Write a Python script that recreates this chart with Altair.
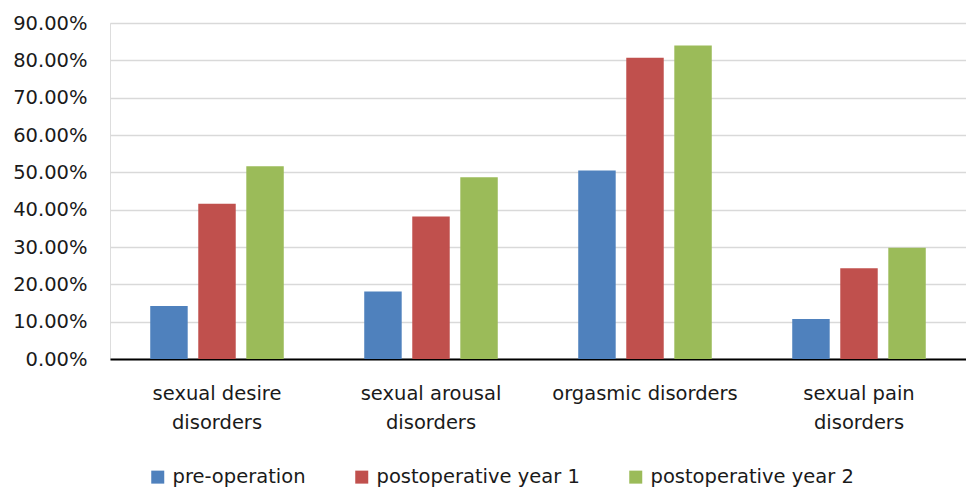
import altair as alt
import pandas as pd

categories = [
    "sexual desire\ndisorders",
    "sexual arousal\ndisorders",
    "orgasmic disorders",
    "sexual pain\ndisorders",
]
series = ["pre-operation", "postoperative year 1", "postoperative year 2"]
pre_operation = [0.142, 0.181, 0.505, 0.107]
post_year_1 = [0.416, 0.382, 0.807, 0.243]
post_year_2 = [0.516, 0.487, 0.840, 0.298]
y_ticks = [0.0, 0.1, 0.2, 0.3, 0.4, 0.5, 0.6, 0.7, 0.8, 0.9]
colors = ["#4f81bd", "#c0504d", "#9bbb59"]

rows = []
for s, vals in zip(series, [pre_operation, post_year_1, post_year_2]):
    for c, v in zip(categories, vals):
        rows.append({"category": c, "series": s, "value": v})
df = pd.DataFrame(rows)

FONT = "DejaVu Sans"
TXT = "#1a1a1a"

chart = (
    alt.Chart(df)
    .mark_bar()
    .encode(
        x=alt.X(
            "category:N",
            sort=categories,
            title=None,
            scale=alt.Scale(paddingInner=0.376, paddingOuter=0.188),
            axis=alt.Axis(
                labelExpr="split(datum.label, '\\n')",
                labelAngle=0,
                labelFontSize=19.5,
                labelColor=TXT,
                labelFont=FONT,
                labelPadding=25,
                labelLineHeight=29,
                labelBaseline="top",
                labelLimit=0,
                ticks=False,
                tickSize=0,
                domain=True,
                domainColor="#000000",
                domainWidth=2,
                grid=False,
            ),
        ),
        xOffset=alt.XOffset(
            "series:N",
            sort=series,
            scale=alt.Scale(paddingInner=0.22, paddingOuter=0),
        ),
        y=alt.Y(
            "value:Q",
            title=None,
            scale=alt.Scale(domain=[0, 0.9], nice=False),
            axis=alt.Axis(
                values=y_ticks,
                format=".2%",
                labelFontSize=19.5,
                labelColor=TXT,
                labelFont=FONT,
                labelPadding=23,
                labelLimit=0,
                ticks=False,
                tickSize=0,
                domain=False,
                grid=True,
                gridColor="#d9d9d9",
                gridWidth=1.5,
            ),
        ),
        color=alt.Color(
            "series:N",
            sort=series,
            scale=alt.Scale(domain=series, range=colors),
            legend=alt.Legend(
                title=None,
                orient="none",
                direction="horizontal",
                legendX=38,
                legendY=444,
                symbolType="square",
                symbolSize=169,
                symbolStrokeWidth=0,
                labelFontSize=19.5,
                labelFont=FONT,
                labelColor=TXT,
                labelOffset=5,
                labelLimit=0,
                columnPadding=46,
                padding=0,
            ),
        ),
    )
    .properties(
        width=856,
        height=336,
        autosize="none",
        padding={"left": 110, "top": 23, "right": 0, "bottom": 129},
    )
    .configure_view(stroke=None, strokeWidth=0)
    .configure(font=FONT, background="#ffffff")
)

chart.save("out.html", embed_options={"renderer": "svg", "actions": False})
